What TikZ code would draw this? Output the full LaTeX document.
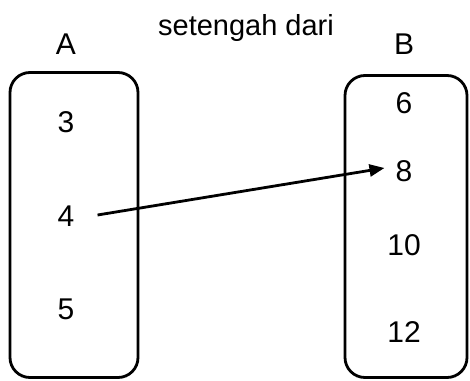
\documentclass[tikz,border=0pt]{standalone}
\usepackage{fontspec}
\setmainfont{Liberation Sans}
\usetikzlibrary{arrows.meta}
\begin{document}
\begin{tikzpicture}[x=1pt,y=-1pt,
  setbox/.style={draw=black,line width=2.8pt,rounded corners=20pt,inner sep=0pt},
  lbl/.style={inner sep=0pt,font=\fontsize{30}{36}\selectfont},
  arr/.style={line width=2.8pt,-{Triangle[length=15pt,width=12pt]}}]
\useasboundingbox (0,0) rectangle (470,380);
\node[setbox,minimum width=128pt,minimum height=305pt] (boxA) at (74,225) {};
\node[setbox,minimum width=122pt,minimum height=302pt] (boxB) at (406,226.5) {};
\node[lbl] (labA) at (66,44) {A};
\node[lbl] (labB) at (404,44) {B};
\node[lbl,anchor=base,font=\fontsize{29}{35}\selectfont] (rel) at (246,35) {setengah dari};
\node[lbl] (a3) at (66,122) {3};
\node[lbl] (a4) at (66,216) {4};
\node[lbl] (a5) at (66,309) {5};
\node[lbl] (b6) at (404,103) {6};
\node[lbl] (b8) at (404,171) {8};
\node[lbl] (b10) at (404,245) {10};
\node[lbl] (b12) at (404,332) {12};
\draw[arr] ([xshift=23pt,yshift=1pt]a4.east) -- ([xshift=-11pt,yshift=3pt]b8.west);
\end{tikzpicture}
\end{document}
